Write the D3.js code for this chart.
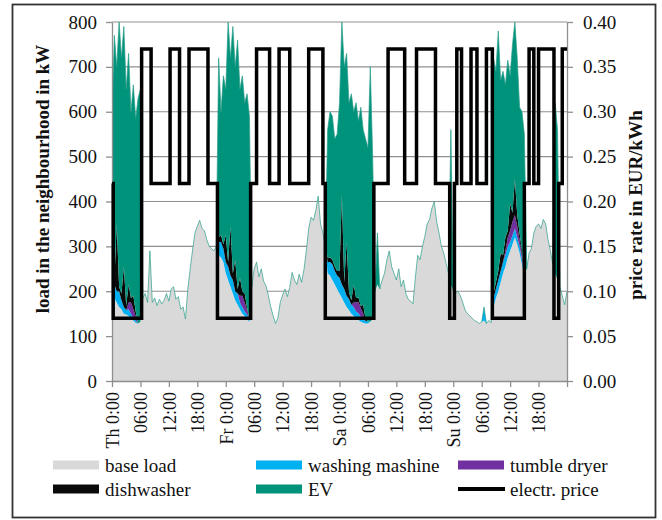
<!DOCTYPE html>
<html>
<head>
<meta charset="utf-8">
<script src="https://cdn.jsdelivr.net/npm/d3@7"></script>
<style>
  body { margin: 0; background: #fff; }
  svg text { font-family: "Liberation Serif", "Times New Roman", serif; fill: #111; }
</style>
</head>
<body>
<div id="chart"></div>
<script>
// base load, half-hourly from Th 0:00 to Mo 0:00 (kW)
const baseLoad = [
  200,185,175,165,160,150,148,145,140,135,130,128,
  132,185,195,175,290,175,185,168,182,172,180,195,
  178,205,210,182,188,160,165,138,205,250,292,330,
  345,358,340,335,315,300,295,290,300,280,275,265,
  240,225,210,195,180,170,160,150,145,138,132,210,
  250,265,232,250,222,212,190,165,145,128,140,175,
  192,205,188,208,242,225,215,238,220,248,290,340,
  365,358,380,412,350,330,300,240,235,225,215,205,
  195,185,175,165,158,150,145,140,136,132,130,128,
  128,132,138,200,215,205,225,240,270,290,255,240,
  225,250,210,225,195,182,178,172,230,280,270,300,
  322,350,360,385,400,355,330,300,285,262,240,215,
  200,195,200,190,175,158,150,145,140,135,132,128,
  132,135,128,135,130,165,185,200,220,240,255,275,
  290,305,320,305,285,260,235,250,285,295,330,345,
  350,340,360,350,315,290,260,240,225,210,190,170,
  200
];

// shifted loads as [hour, kW]; zero elsewhere
const washLoad = [
  [0,20],[0.5,30],[1,25],[1.5,35],[2,20],[2.5,15],[3,10],[3.5,15],[4,10],[4.5,5],[5,5],
  [22.5,30],[23,35],[23.5,30],[24,25],[24.5,30],[25,25],[25.5,30],[26,20],[26.5,25],[27,15],[27.5,15],[28,10],[28.5,10],[29,5],
  [45.5,25],[46,30],[46.5,35],[47,30],[47.5,30],[48,35],[48.5,30],[49,30],[49.5,25],[50,25],[50.5,20],[51,20],[51.5,15],[52,15],[52.5,10],[53,10],[53.5,5],[54,5],
  [78.5,30],
  [80.5,20],[81,20],[81.5,25],[82,25],[82.5,25],[83,25],[83.5,25],[84,20],[84.5,20],[85,20],[85.5,15],[86,15],[86.5,10],[87,5]
];
const dryerLoad = [
  [3.5,15],[4,25],[4.5,20],[5,10],
  [27,15],[27.5,25],[28,20],[28.5,10],
  [51,10],[51.5,20],[52,25],[52.5,20],[53,10],
  [83,10],[83.5,20],[84,25],[84.5,30],[85,30],[85.5,25],[86,15],[86.5,10]
];
const dishLoad = [
  [0.5,10],[1,150],[1.5,10],[2,15],[2.5,90],[3,10],[3.5,40],[4,10],[4.5,30],[5,10],
  [22.5,10],[23,15],[23.5,10],[24,60],[24.5,10],[25,110],[25.5,15],[26,70],[26.5,10],[27,40],[27.5,10],[28,20],[28.5,5],
  [45.5,10],[46,10],[46.5,10],[47,10],[47.5,10],[48,15],[48.5,200],[49,15],[49.5,120],[50,15],[50.5,10],[51,40],[51.5,10],[52,10],[52.5,5],[53,20],[53.5,5],
  [80.5,10],[81,15],[81.5,20],[82,40],[82.5,15],[83,30],[83.5,15],[84,60],[84.5,20],[85,80],[85.5,25],[86,15],[86.5,10]
];
const evLoad = [
  [0,380],[0.5,545],[1,350],[1.5,590],[2,525],[2.5,535],[3,482],[3.5,515],[4,415],[4.5,470],[5,430],[5.5,502],[6,518],
  [22.5,400],[23,275],[23.5,375],[24,325],[24.5,535],[25,375],[25.5,550],[26,430],[26.5,555],[27,420],[27.5,480],[28,425],[28.5,477],[29,453],
  [45.5,285],[46,325],[46.5,320],[47,285],[47.5,305],[48,375],[48.5,385],[49,480],[49.5,420],[50,422],[50.5,460],[51,385],[51.5,435],[52,394],[52.5,443],[53,390],[53.5,402],[54,387],[54.5,568],[55,362],
  [56,115],
  [71.5,345],
  [80.5,525],[81,470],[81.5,535],[82,385],[82.5,410],[83,340],[83.5,380],[84,285],[84.5,375],[85,350],[85.5,350],[86,280],[86.5,310],[87,310],
  [93.5,380],[94,335]
];

// electricity price: [hour it starts, EUR/kWh]
const priceSteps = [
  [0,0.22],[0.25,0.07],[6.25,0.37],[8.25,0.22],[12.25,0.37],[14.25,0.22],[16.25,0.37],[20.25,0.22],
  [22.25,0.07],[29.25,0.22],[30.5,0.37],[33.25,0.22],[35.25,0.37],[37.5,0.22],[41.5,0.37],[44.5,0.22],
  [45,0.07],[55.25,0.22],[58.25,0.37],[61.75,0.22],[64.25,0.37],[68.25,0.22],
  [71.25,0.07],[72.25,0.22],[72.75,0.37],[73.75,0.22],[75.75,0.37],[77,0.22],[79,0.37],
  [80.25,0.07],[87,0.22],[88,0.37],[89,0.22],[90,0.37],[93.25,0.07],[94.25,0.22],[95,0.37],[96,0.37]
];

const xTickLabels = ["Th 0:00","06:00","12:00","18:00","Fr 0:00","06:00","12:00","18:00",
                     "Sa 0:00","06:00","12:00","18:00","Su 0:00","06:00","12:00","18:00",""];
const loadTicks = [0,100,200,300,400,500,600,700,800];
const priceTicks = [0,0.05,0.10,0.15,0.20,0.25,0.30,0.35,0.40];

const seriesKeys = ["base","wash","dryer","dish","ev"];
const seriesNames = ["base load","washing mashine","tumble dryer","dishwasher","EV","electr. price"];
const seriesColors = ["#d9d9d9","#00b0f0","#7030a0","#0a0a0a","#00937b","#000000"];

const width = 662, height = 520;
const plot = { left: 112, right: 567, top: 22, bottom: 381 };

const svg = d3.select("#chart").append("svg")
    .attr("width", width)
    .attr("height", height);

// outer frame
svg.append("rect")
    .attr("x", 12.5).attr("y", 4.5)
    .attr("width", 643).attr("height", 513)
    .attr("fill", "none")
    .attr("stroke", "#333")
    .attr("stroke-width", 1.8);

const x = d3.scaleLinear().domain([0, 96]).range([plot.left, plot.right]);
const y = d3.scaleLinear().domain([0, 800]).range([plot.bottom, plot.top]);
const yPrice = d3.scaleLinear().domain([0, 0.4]).range([plot.bottom, plot.top]);

// build rows for stacking
const toMap = pairs => new Map(pairs.map(p => [p[0], p[1]]));
const washMap = toMap(washLoad), dryerMap = toMap(dryerLoad),
      dishMap = toMap(dishLoad), evMap = toMap(evLoad);
const rows = baseLoad.map((v, i) => {
    const h = i / 2;
    return {
        hour: h,
        base: v,
        wash: washMap.get(h) || 0,
        dryer: dryerMap.get(h) || 0,
        dish: dishMap.get(h) || 0,
        ev: evMap.get(h) || 0
    };
});
const stacked = d3.stack().keys(seriesKeys)(rows);

// gridlines
svg.append("g")
    .selectAll("line")
    .data(loadTicks.slice(1))
    .enter().append("line")
    .attr("x1", plot.left).attr("x2", plot.right)
    .attr("y1", d => y(d)).attr("y2", d => y(d))
    .attr("stroke", "#8f8f8f")
    .attr("stroke-width", 1.2);

svg.append("defs").append("clipPath")
    .attr("id", "plot-clip")
    .append("rect")
    .attr("x", plot.left).attr("y", plot.top - 1)
    .attr("width", plot.right - plot.left)
    .attr("height", plot.bottom - plot.top + 1);

const area = d3.area()
    .x(d => x(d.data.hour))
    .y0(d => y(d[0]))
    .y1(d => y(d[1]));

const areaGroup = svg.append("g").attr("clip-path", "url(#plot-clip)");

areaGroup.selectAll("path.layer")
    .data(stacked)
    .enter().append("path")
    .attr("class", "layer")
    .attr("d", area)
    .attr("fill", (d, i) => seriesColors[i]);

// thin outline on top of the stack
areaGroup.append("path")
    .datum(stacked[stacked.length - 1])
    .attr("d", d3.line().x(d => x(d.data.hour)).y(d => y(d[1])))
    .attr("fill", "none")
    .attr("stroke", "#2a9d8a")
    .attr("stroke-width", 0.7);

// axes
function styleAxis(g) {
    g.select(".domain").attr("stroke", "#8f8f8f").attr("stroke-width", 1.3);
    g.selectAll(".tick line").attr("stroke", "#8f8f8f").attr("stroke-width", 1.3);
    g.selectAll(".tick text").attr("fill", "#111");
}

svg.append("g")
    .attr("transform", `translate(${plot.left},0)`)
    .call(d3.axisLeft(y).tickValues(loadTicks).tickSize(6).tickPadding(9).tickSizeOuter(0))
    .call(styleAxis)
    .selectAll("text")
    .style("font-size", "19px")
    .style("font-family", "Liberation Serif, serif");

svg.append("g")
    .attr("transform", `translate(${plot.right},0)`)
    .call(d3.axisRight(yPrice).tickValues(priceTicks).tickFormat(d3.format(".2f"))
        .tickSize(6).tickPadding(10).tickSizeOuter(0))
    .call(styleAxis)
    .selectAll("text")
    .style("font-size", "19px")
    .style("font-family", "Liberation Serif, serif");

const xTicks = xTickLabels.map((_, i) => i * 6);
svg.append("g")
    .attr("transform", `translate(0,${plot.bottom})`)
    .call(d3.axisBottom(x).tickValues(xTicks).tickFormat((d, i) => xTickLabels[i])
        .tickSize(6).tickSizeOuter(0))
    .call(styleAxis)
    .selectAll("text")
    .attr("transform", "rotate(-90)")
    .attr("x", -11)
    .attr("y", 0)
    .attr("dy", "0.35em")
    .style("text-anchor", "end")
    .style("font-size", "18px")
    .style("font-family", "Liberation Serif, serif");

// price line
svg.append("path")
    .datum(priceSteps)
    .attr("d", d3.line().curve(d3.curveStepAfter).x(d => x(d[0])).y(d => yPrice(d[1])))
    .attr("fill", "none")
    .attr("stroke", "#000")
    .attr("stroke-width", 3.5)
    .attr("stroke-linejoin", "miter");

// axis titles
svg.append("text")
    .attr("transform", "translate(49,179) rotate(-90)")
    .attr("text-anchor", "middle")
    .style("font-size", "19px")
    .style("font-weight", "bold")
    .text("load in the neighbourhood in kW");

svg.append("text")
    .attr("transform", "translate(642,205) rotate(-90)")
    .attr("text-anchor", "middle")
    .style("font-size", "19px")
    .style("font-weight", "bold")
    .text("price rate in EUR/kWh");

// legend
const legendCols = [53, 256, 458];
const legendRows = [465, 489];
const legend = svg.append("g");
seriesNames.forEach((name, i) => {
    const lx = legendCols[i % 3];
    const ly = legendRows[Math.floor(i / 3)];
    if (name === "electr. price") {
        legend.append("line")
            .attr("x1", lx).attr("x2", lx + 47)
            .attr("y1", ly).attr("y2", ly)
            .attr("stroke", seriesColors[i])
            .attr("stroke-width", 4);
    } else {
        legend.append("rect")
            .attr("x", lx).attr("y", ly - 4.5)
            .attr("width", 46).attr("height", 9)
            .attr("fill", seriesColors[i]);
    }
    legend.append("text")
        .attr("x", lx + 52)
        .attr("y", ly)
        .attr("dy", "0.35em")
        .style("font-size", "19px")
        .text(name);
});
</script>
</body>
</html>
